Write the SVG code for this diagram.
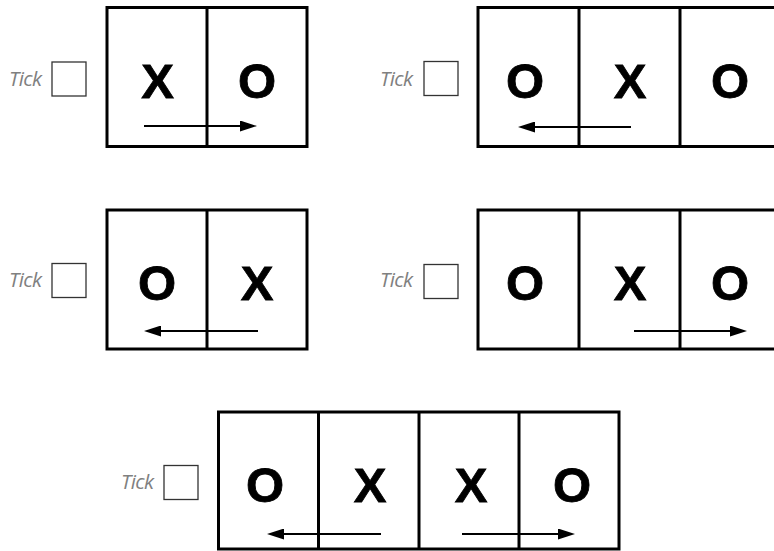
<svg xmlns="http://www.w3.org/2000/svg" width="774" height="551" viewBox="0 0 774 551">
<style>
.box{fill:#fff;stroke:#000;stroke-width:3}
.div{stroke:#000;stroke-width:3}
.tick{fill:#fff;stroke:#333;stroke-width:1.3}
.tl{font-family:"Open Sans","Liberation Sans",sans-serif;font-style:italic;font-size:20.5px;fill:#808080;letter-spacing:-0.6px}
.L{font-family:"Liberation Sans",Arial,sans-serif;font-weight:bold;font-size:49px;fill:#000;text-anchor:middle;stroke:#000;stroke-width:0.8}
.arr{stroke:#000;stroke-width:2;fill:none;marker-end:url(#ah)}
</style>
<defs>
<marker id="ah" markerUnits="userSpaceOnUse" viewBox="0 0 17 11" refX="2" refY="5.5" markerWidth="17" markerHeight="11" orient="auto">
<path d="M0,0 L17,5.5 L0,11 Z" fill="#000"/>
</marker>
</defs>
<rect width="774" height="551" fill="#fff"/>

<g id="puzzle1">
<text class="tl" x="9" y="86">Tick</text>
<rect class="tick" x="52" y="62" width="34" height="34"/>
<rect class="box" x="107" y="7.5" width="200" height="139"/>
<line class="div" x1="207" y1="7.5" x2="207" y2="146.5"/>
<text class="L" x="157.5" y="98">X</text>
<text class="L" x="257" y="98">O</text>
</g>

<g id="puzzle2">
<text class="tl" x="380" y="86">Tick</text>
<rect class="tick" x="424" y="61.5" width="34" height="34"/>
<rect class="box" x="478" y="7.5" width="306" height="139"/>
<line class="div" x1="579" y1="7.5" x2="579" y2="146.5"/>
<line class="div" x1="680" y1="7.5" x2="680" y2="146.5"/>
<text class="L" x="525" y="98">O</text>
<text class="L" x="630" y="98">X</text>
<text class="L" x="730" y="98">O</text>
</g>

<g id="puzzle3">
<text class="tl" x="9" y="287">Tick</text>
<rect class="tick" x="52" y="263.5" width="34" height="34"/>
<rect class="box" x="107" y="210" width="200" height="139"/>
<line class="div" x1="207" y1="210" x2="207" y2="349"/>
<text class="L" x="157" y="300">O</text>
<text class="L" x="257" y="300">X</text>
</g>

<g id="puzzle4">
<text class="tl" x="380" y="287">Tick</text>
<rect class="tick" x="424" y="264.5" width="34" height="34"/>
<rect class="box" x="478" y="210" width="306" height="139"/>
<line class="div" x1="579" y1="210" x2="579" y2="349"/>
<line class="div" x1="680" y1="210" x2="680" y2="349"/>
<text class="L" x="525" y="300">O</text>
<text class="L" x="630" y="300">X</text>
<text class="L" x="730" y="300">O</text>
</g>

<g id="puzzle5">
<text class="tl" x="121" y="489">Tick</text>
<rect class="tick" x="164" y="465.5" width="34" height="34"/>
<rect class="box" x="218.5" y="412" width="400.5" height="137"/>
<line class="div" x1="318.5" y1="412" x2="318.5" y2="549"/>
<line class="div" x1="419" y1="412" x2="419" y2="549"/>
<line class="div" x1="519" y1="412" x2="519" y2="549"/>
<text class="L" x="265" y="502">O</text>
<text class="L" x="370" y="502">X</text>
<text class="L" x="471" y="502">X</text>
<text class="L" x="572" y="502">O</text>
</g>

<g id="connectors">
<line class="arr" x1="144" y1="126" x2="242" y2="126"/>
<line class="arr" x1="631" y1="127" x2="533" y2="127"/>
<line class="arr" x1="258" y1="331" x2="159" y2="331"/>
<line class="arr" x1="634" y1="331" x2="732" y2="331"/>
<line class="arr" x1="381" y1="534" x2="282" y2="534"/>
<line class="arr" x1="462" y1="534" x2="560" y2="534"/>
</g>
</svg>
